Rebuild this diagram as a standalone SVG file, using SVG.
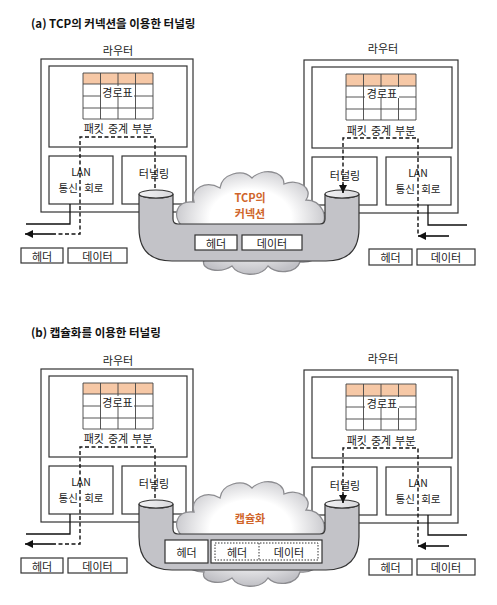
<svg xmlns="http://www.w3.org/2000/svg" width="497" height="605" viewBox="0 0 497 605">
<style>
text{font-family:"Noto Sans CJK KR","Noto Sans",sans-serif;font-size:11px;fill:#222;text-anchor:middle;dominant-baseline:central;word-spacing:1.5px}
.title{font-size:11.5px;font-weight:bold;text-anchor:start;fill:#111;word-spacing:0}
.cl{fill:#d0652a;font-size:11px;font-weight:bold}
.sm{font-size:10.5px}
.wide{font-size:10.5px;word-spacing:4px}
.box{fill:#fff;stroke:#333;stroke-width:1.2}
.grid{fill:none;stroke:#444;stroke-width:0.9}
.hdr{fill:#f6c8a6}
.dash{fill:none;stroke:#111;stroke-width:1.4;stroke-dasharray:4 2.5}
.solid{fill:none;stroke:#111;stroke-width:1.3}
.arrow{fill:none;stroke:#111;stroke-width:1.6}
.pipe{fill:#c3c3c8;stroke:#333;stroke-width:1.2}
.top{fill:url(#topg);stroke:#333;stroke-width:1.1}
.cloud{fill:url(#cg);stroke:#8c8c90;stroke-width:1.3}
.dot{fill:none;stroke:#333;stroke-width:1;stroke-dasharray:1.5 1.5}
</style>
<defs>
<marker id="ah" viewBox="0 0 10 10" refX="10" refY="5" markerWidth="9" markerHeight="8" markerUnits="userSpaceOnUse" orient="auto"><path d="M0,0 L10,5 L0,10 z" fill="#111"/></marker>
<radialGradient id="cg" cx="0.5" cy="0.45" r="0.55"><stop offset="0.5" stop-color="#ffffff"/><stop offset="1" stop-color="#c0c0c5"/></radialGradient>
<linearGradient id="topg" x1="0" y1="0" x2="1" y2="0"><stop offset="0" stop-color="#f2f2f4"/><stop offset="1" stop-color="#d8d8dc"/></linearGradient>
</defs>
<rect width="497" height="605" fill="#fff"/>

<!-- ===== Panel (a) ===== -->
<g id="panel-a">
<text class="title" x="31" y="23">(a) TCP의 커넥션을 이용한 터널링</text>

<g id="a-router-left">
<text x="118" y="50">라우터</text>
<rect class="box" x="41" y="59" width="152" height="153"/>
<g id="a-relay-left">
<rect class="box" x="49" y="66" width="138" height="81"/>
<g id="a-table-left">
<rect class="hdr" x="83" y="73" width="70" height="11"/>
<path class="grid" d="M83,73 H153 V119 H83 Z M83,84 H153 M83,96 H153 M83,108 H153 M100.5,73 V119 M118,73 V119 M135.5,73 V119"/>
<rect x="101" y="86" width="33" height="11" fill="#fff"/>
<text x="117.5" y="91.5">경로표</text>
</g>
<text x="118" y="128">패킷 중계 부분</text>
</g>
<g id="a-lan-left"><rect class="box" x="49" y="156" width="64" height="48"/><text class="sm" x="81" y="171">LAN</text><text class="wide" x="81" y="187">통신 회로</text></g>
<g id="a-tun-left"><rect class="box" x="122" y="156" width="64" height="48"/><text x="154" y="173">터널링</text></g>
</g>

<g id="a-router-right">
<text x="383" y="48">라우터</text>
<rect class="box" x="304" y="60" width="154" height="153"/>
<g id="a-relay-right">
<rect class="box" x="312" y="67" width="140" height="81"/>
<g id="a-table-right">
<rect class="hdr" x="346" y="74" width="70" height="12"/>
<path class="grid" d="M346,74 H416 V120 H346 Z M346,86 H416 M346,97 H416 M346,109 H416 M363.5,74 V120 M381,74 V120 M398.5,74 V120"/>
<rect x="365" y="87" width="34" height="11" fill="#fff"/>
<text x="382" y="93">경로표</text>
</g>
<text x="381" y="130">패킷 중계 부분</text>
</g>
<g id="a-tun-right"><rect class="box" x="312" y="157" width="65" height="48"/><text x="345" y="175">터널링</text></g>
<g id="a-lan-right"><rect class="box" x="386" y="157" width="65" height="48"/><text class="sm" x="418" y="172">LAN</text><text class="wide" x="418" y="188">통신 회로</text></g>
</g>

<g id="a-cloud"><path class="cloud" d="M182,226 C172,216 176,200 194,202 C190,188 206,180 220,188 C222,174 242,168 252,178 C262,168 284,170 284,184 C298,178 314,188 306,200 C322,200 330,218 320,228 C330,246 318,264 300,262 C296,274 276,274 268,266 C260,278 238,276 232,266 C220,274 200,270 204,260 C184,262 174,244 182,226 Z"/>
<text class="cl" x="250" y="197">TCP의</text><text class="cl" x="250" y="213">커넥션</text></g>

<g id="a-pipe">
<path class="pipe" d="M139,194 L139,228 Q139,261 172,261 L326,261 Q359,261 359,228 L359,194 A17,4 0 0 1 325,194 L325,219 Q325,224 320,224 L178,224 Q173,224 173,219 L173,194 A17,4 0 0 1 139,194 Z"/>
<ellipse class="top" cx="156" cy="194" rx="17" ry="4"/>
<ellipse class="top" cx="342" cy="194" rx="17" ry="4"/>
</g>
<g id="a-pipe-packet">
<g id="a-pp-hdr"><rect class="box" x="195" y="235" width="42" height="15"/><text x="216" y="242.5">헤더</text></g>
<g id="a-pp-data"><rect class="box" x="242" y="235" width="60" height="15"/><text x="272" y="242.5">데이터</text></g>
</g>

<g id="a-pkt-left">
<g id="a-pl-hdr"><rect class="box" x="21" y="248" width="42" height="15"/><text x="42" y="255.5">헤더</text></g>
<g id="a-pl-data"><rect class="box" x="68" y="248" width="59" height="15"/><text x="97.5" y="255.5">데이터</text></g>
</g>
<g id="a-pkt-right">
<g id="a-pr-hdr"><rect class="box" x="369" y="249" width="43" height="16"/><text x="390.5" y="257">헤더</text></g>
<g id="a-pr-data"><rect class="box" x="417" y="249" width="58" height="16"/><text x="446" y="257">데이터</text></g>
</g>

<g id="a-connectors">
<path class="solid" d="M70,204 V224 H26"/>
<path class="solid" d="M428,205 V225 H467"/>
<path class="dash" d="M155,188 V137 H80 V234 H55"/>
<path class="arrow" d="M55,234 H25" marker-end="url(#ah)"/>
<path class="dash" d="M343,186 V138 H418 V236"/>
<path class="arrow" d="M343,184 V193" marker-end="url(#ah)"/>
<path class="arrow" d="M449,236 H418" marker-end="url(#ah)"/>
</g>
</g>

<!-- ===== Panel (b) ===== -->
<g id="panel-b" transform="translate(0,310)">
<text class="title" x="31" y="22">(b) 캡슐화를 이용한 터널링</text>

<g id="b-router-left">
<text x="118" y="50">라우터</text>
<rect class="box" x="41" y="59" width="152" height="153"/>
<g id="b-relay-left">
<rect class="box" x="49" y="66" width="138" height="81"/>
<g id="b-table-left">
<rect class="hdr" x="83" y="73" width="70" height="11"/>
<path class="grid" d="M83,73 H153 V119 H83 Z M83,84 H153 M83,96 H153 M83,108 H153 M100.5,73 V119 M118,73 V119 M135.5,73 V119"/>
<rect x="101" y="86" width="33" height="11" fill="#fff"/>
<text x="117.5" y="91.5">경로표</text>
</g>
<text x="118" y="128">패킷 중계 부분</text>
</g>
<g id="b-lan-left"><rect class="box" x="49" y="156" width="64" height="48"/><text class="sm" x="81" y="171">LAN</text><text class="wide" x="81" y="187">통신 회로</text></g>
<g id="b-tun-left"><rect class="box" x="122" y="156" width="64" height="48"/><text x="154" y="173">터널링</text></g>
</g>

<g id="b-router-right">
<text x="383" y="48">라우터</text>
<rect class="box" x="304" y="60" width="154" height="153"/>
<g id="b-relay-right">
<rect class="box" x="312" y="67" width="140" height="81"/>
<g id="b-table-right">
<rect class="hdr" x="346" y="74" width="70" height="12"/>
<path class="grid" d="M346,74 H416 V120 H346 Z M346,86 H416 M346,97 H416 M346,109 H416 M363.5,74 V120 M381,74 V120 M398.5,74 V120"/>
<rect x="365" y="87" width="34" height="11" fill="#fff"/>
<text x="382" y="93">경로표</text>
</g>
<text x="381" y="130">패킷 중계 부분</text>
</g>
<g id="b-tun-right"><rect class="box" x="312" y="157" width="65" height="48"/><text x="345" y="175">터널링</text></g>
<g id="b-lan-right"><rect class="box" x="386" y="157" width="65" height="48"/><text class="sm" x="418" y="172">LAN</text><text class="wide" x="418" y="188">통신 회로</text></g>
</g>

<g id="b-cloud"><path class="cloud" d="M182,226 C172,216 176,200 194,202 C190,188 206,180 220,188 C222,174 242,168 252,178 C262,168 284,170 284,184 C298,178 314,188 306,200 C322,200 330,218 320,228 C330,246 318,264 300,262 C296,276 276,276 268,268 C260,280 238,278 232,268 C220,276 200,272 204,262 C184,262 174,244 182,226 Z"/>
<text class="cl" x="250" y="208">캡슐화</text></g>

<g id="b-pipe">
<path class="pipe" d="M139,194 L139,227 Q139,260 172,260 L326,260 Q359,260 359,227 L359,194 A17,4 0 0 1 325,194 L325,219 Q325,224 320,224 L178,224 Q173,224 173,219 L173,194 A17,4 0 0 1 139,194 Z"/>
<ellipse class="top" cx="156" cy="194" rx="17" ry="4"/>
<ellipse class="top" cx="342" cy="194" rx="17" ry="4"/>
</g>
<g id="b-pipe-packet">
<g id="b-pp-hdr"><rect class="box" x="165" y="230" width="43" height="23"/><text x="186.5" y="241.5">헤더</text></g>
<g id="b-pp-inner">
<rect class="box" x="211" y="230" width="111" height="23"/>
<rect class="dot" x="215" y="233" width="103" height="17"/>
<path class="dot" d="M259,233 V250"/>
<text x="237" y="241.5">헤더</text>
<text x="289" y="241.5">데이터</text>
</g>
</g>

<g id="b-pkt-left">
<g id="b-pl-hdr"><rect class="box" x="21" y="248" width="42" height="15"/><text x="42" y="255.5">헤더</text></g>
<g id="b-pl-data"><rect class="box" x="68" y="248" width="59" height="15"/><text x="97.5" y="255.5">데이터</text></g>
</g>
<g id="b-pkt-right">
<g id="b-pr-hdr"><rect class="box" x="369" y="249" width="43" height="16"/><text x="390.5" y="257">헤더</text></g>
<g id="b-pr-data"><rect class="box" x="417" y="249" width="58" height="16"/><text x="446" y="257">데이터</text></g>
</g>

<g id="b-connectors">
<path class="solid" d="M70,204 V224 H26"/>
<path class="solid" d="M428,205 V225 H467"/>
<path class="dash" d="M155,188 V137 H80 V234 H55"/>
<path class="arrow" d="M55,234 H25" marker-end="url(#ah)"/>
<path class="dash" d="M343,186 V138 H418 V236"/>
<path class="arrow" d="M343,184 V193" marker-end="url(#ah)"/>
<path class="arrow" d="M449,236 H418" marker-end="url(#ah)"/>
</g>
</g>
</svg>
